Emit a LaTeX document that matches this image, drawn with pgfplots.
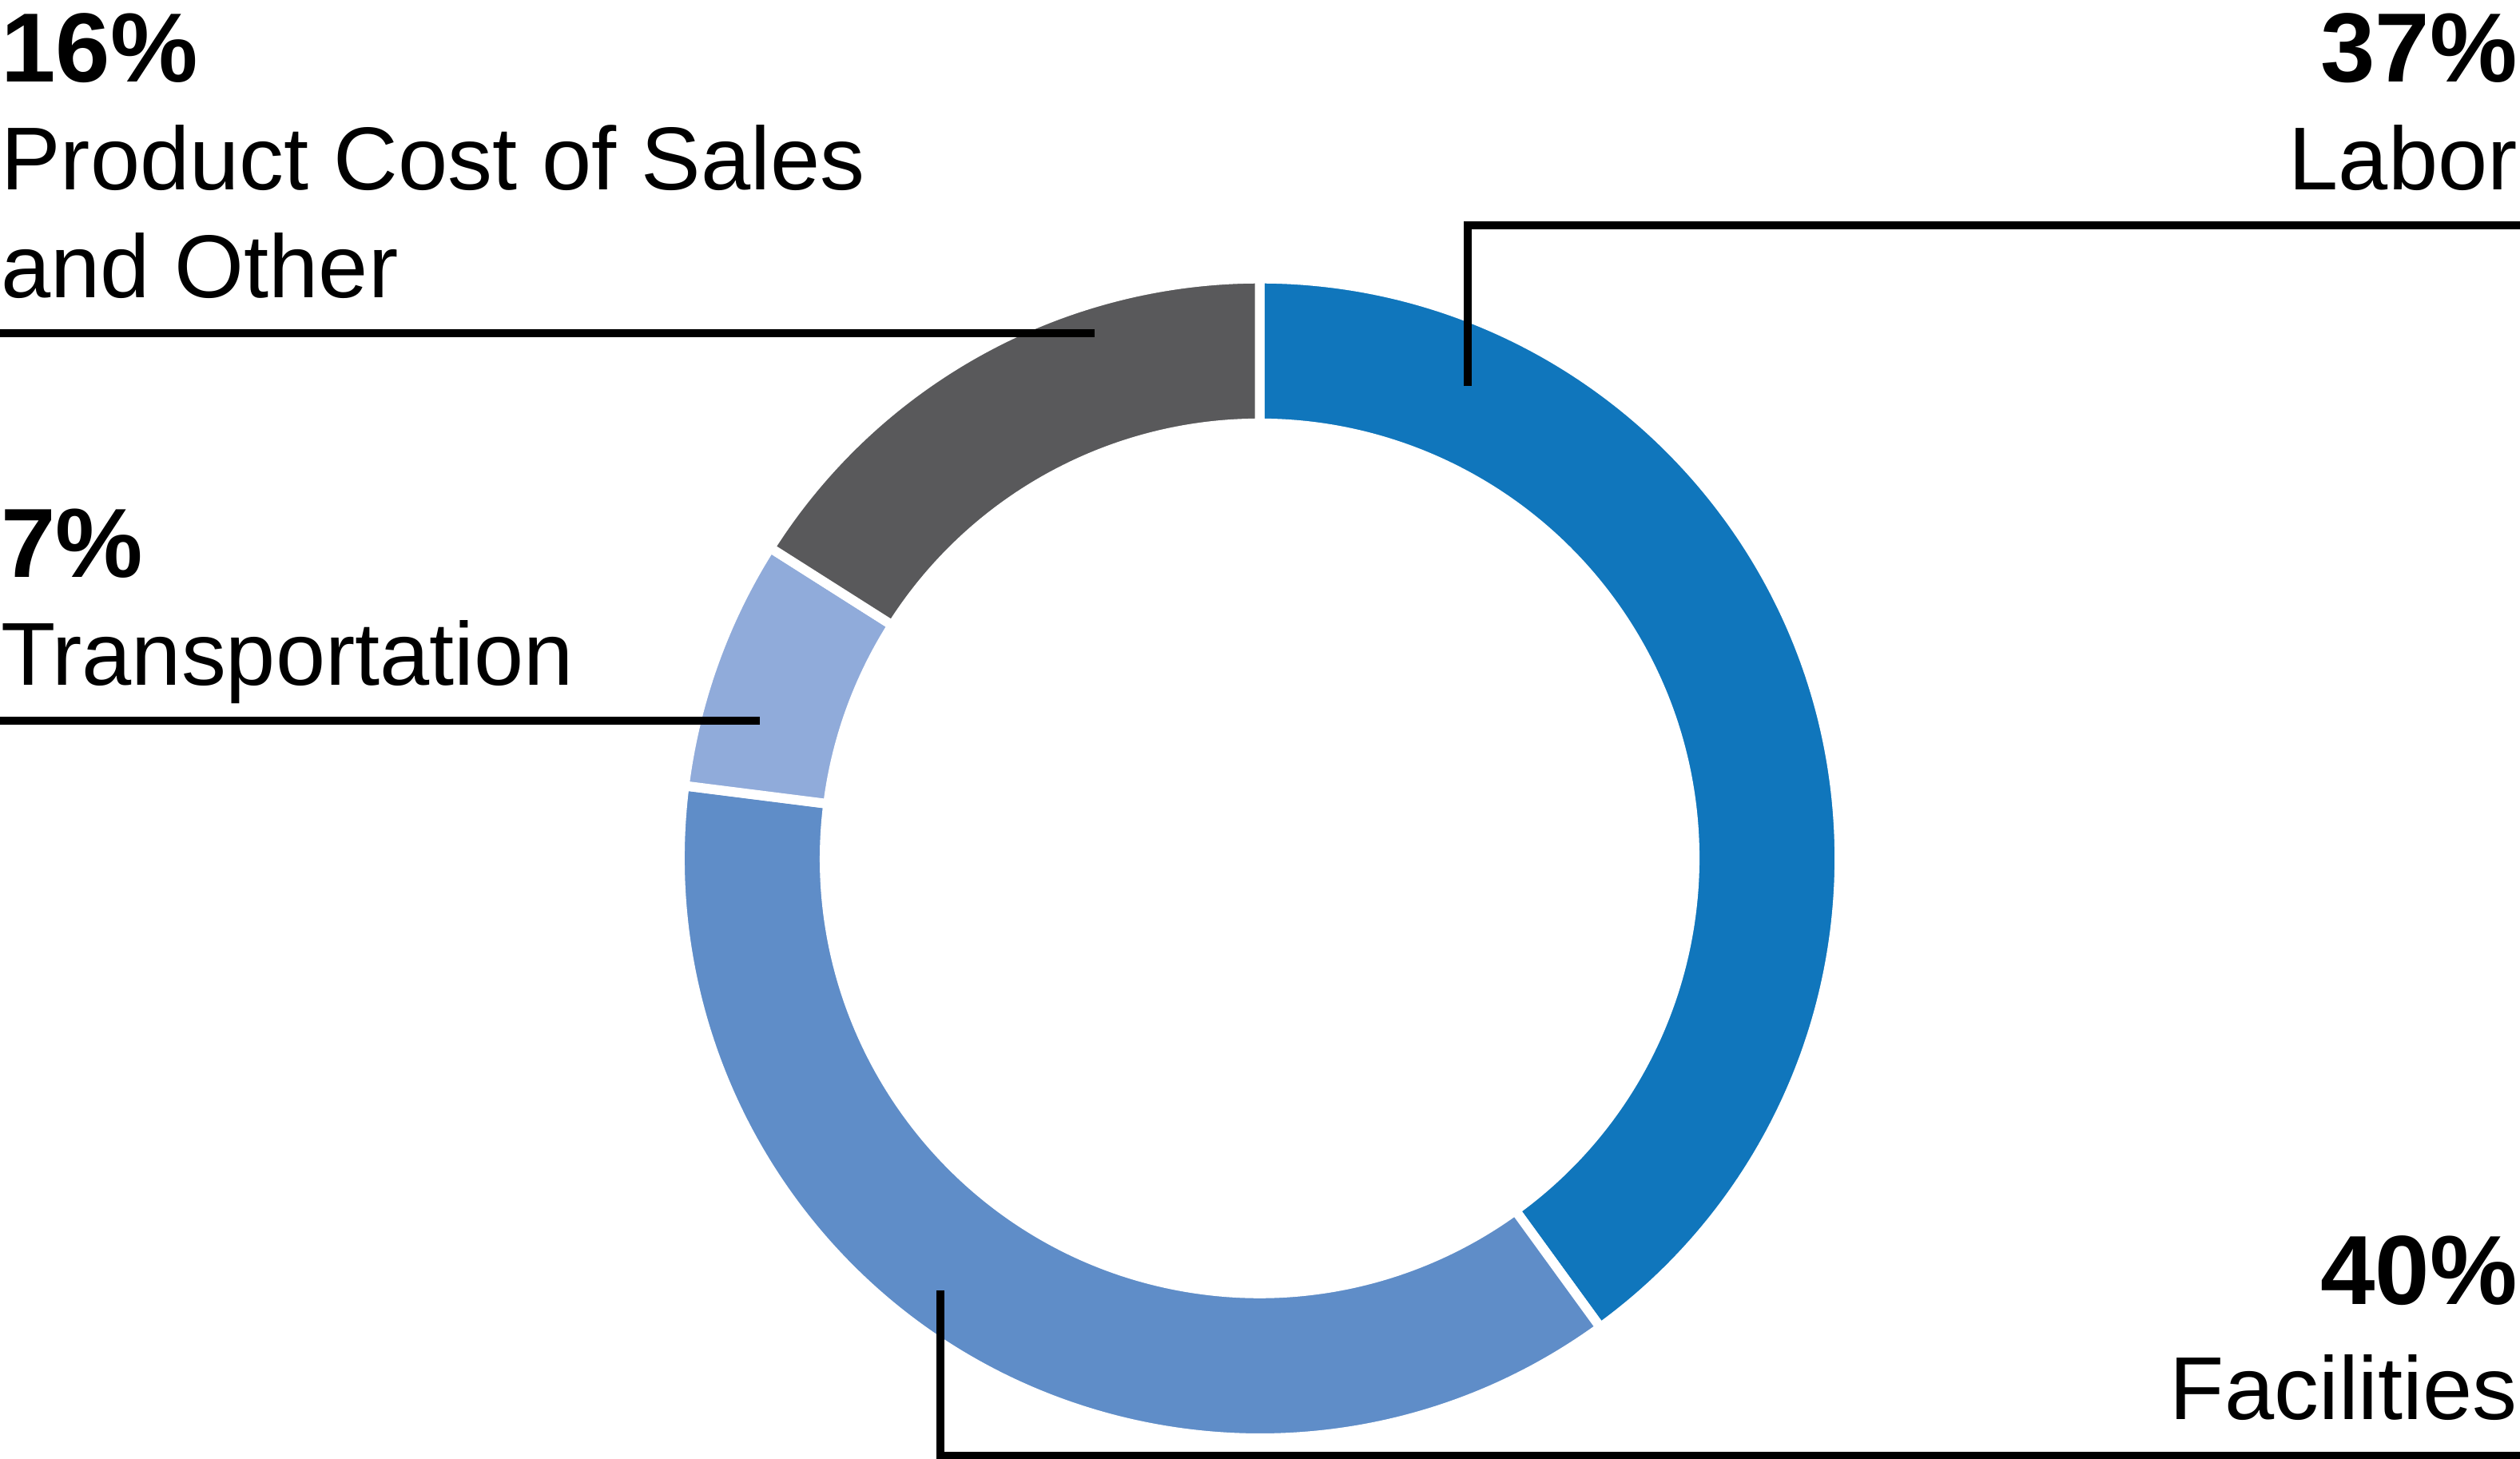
\documentclass[border=0pt]{standalone}
\usepackage{pgfplots}
\pgfplotsset{compat=1.18}
\usepackage{pgfplotstable}
\usepackage{fontspec}
\setmainfont{Liberation Sans}
\usetikzlibrary{calc}

\definecolor{labor}{HTML}{1076BC}
\definecolor{facil}{HTML}{5F8DC8}
\definecolor{trans}{HTML}{90ABDA}
\definecolor{other}{HTML}{59595B}

% ring shares, clockwise from 12 o'clock
\pgfplotstableread{
share colour
40 labor
37 facil
7  trans
16 other
}\donut

\newcommand\pct{\bfseries\fontsize{17.5}{21}\selectfont}
\newcommand\lbl{\fontsize{15.9}{19.2}\selectfont}

\begin{document}
\begin{tikzpicture}
\begin{axis}[
  scale only axis,
  width=157.7mm, height=91.3mm,
  xmin=0, xmax=3154, ymin=0, ymax=1826,
  y dir=reverse,
  hide axis, clip=false,
]
\coordinate (bl) at (axis cs:0,1826);
\coordinate (tr) at (axis cs:3154,0);

\pgfplotstablegetrowsof{\donut}
\pgfmathtruncatemacro\nrows{\pgfplotsretval-1}
\def\cum{0}
\pgfplotsforeachungrouped \i in {0,...,\nrows}{%
  \pgfplotstablegetelem{\i}{share}\of\donut
  \let\share\pgfplotsretval
  \pgfplotstablegetelem{\i}{colour}\of\donut
  \let\col\pgfplotsretval
  \pgfmathsetmacro\angA{90-3.6*\cum}
  \pgfmathsetmacro\angB{90-3.6*(\cum+\share)}
  \edef\temp{\noexpand\fill[\col, draw=white, line width=0.6mm, line join=miter]
    (axis cs:1576.5,1074.3) ++(\angA:36.28mm)
    arc[start angle=\angA, end angle=\angB, radius=36.28mm]
    -- ($(axis cs:1576.5,1074.3)+(\angB:27.225mm)$)
    arc[start angle=\angB, end angle=\angA, radius=27.225mm] -- cycle;}
  \temp
  \pgfmathsetmacro\cum{\cum+\share}
}

% leader lines
\draw[line width=0.475mm] (axis cs:0,417) -- (axis cs:1370,417);
\draw[line width=0.475mm] (axis cs:0,902) -- (axis cs:951,902);
\draw[line width=0.475mm, line join=miter] (axis cs:1837,483) -- (axis cs:1837,282) -- (axis cs:3154,282);
\draw[line width=0.475mm, line join=miter] (axis cs:1177,1615) -- (axis cs:1177,1822) -- (axis cs:3154,1822);

% labels
\node[anchor=base west, inner sep=0, font=\pct] at (axis cs:0,102) {16\%};
\node[anchor=base west, inner sep=0, font=\lbl] at (axis cs:0,237) {Product Cost of Sales};
\node[anchor=base west, inner sep=0, font=\lbl] at (axis cs:0,372) {and Other};
\node[anchor=base west, inner sep=0, font=\pct] at (axis cs:0,722) {7\%};
\node[anchor=base west, inner sep=0, font=\lbl] at (axis cs:0,857) {Transportation};
\node[anchor=base east, inner sep=0, font=\pct] at (axis cs:3152,103) {37\%};
\node[anchor=base east, inner sep=0, font=\lbl] at (axis cs:3152,238) {Labor};
\node[anchor=base east, inner sep=0, font=\pct] at (axis cs:3152,1632) {40\%};
\node[anchor=base east, inner sep=0, font=\lbl] at (axis cs:3152,1776) {Facilities};
\end{axis}
\pgfresetboundingbox
\path[use as bounding box] (bl) rectangle (tr);
\end{tikzpicture}
\end{document}
